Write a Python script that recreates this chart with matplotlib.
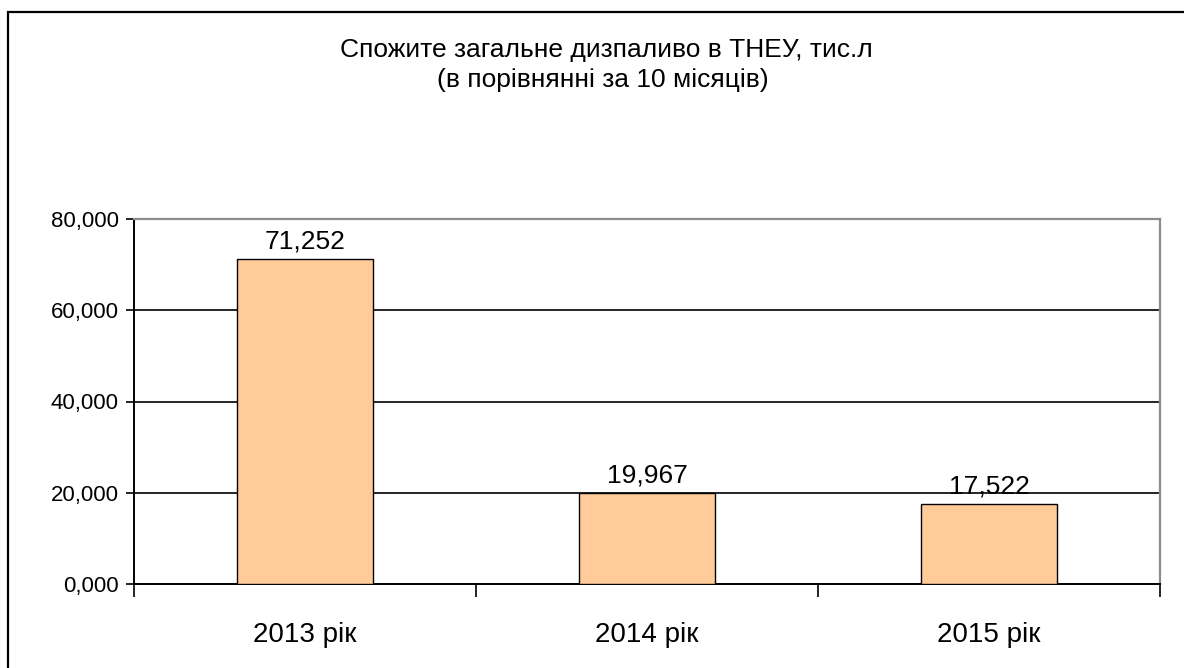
import matplotlib
matplotlib.use("Agg")
import matplotlib.pyplot as plt
from matplotlib.patches import Rectangle
from matplotlib.ticker import FuncFormatter, FixedLocator

plt.rcParams['font.family'] = ['Liberation Sans', 'DejaVu Sans']

categories = ["2013 рік", "2014 рік", "2015 рік"]
values = [71.252, 19.967, 17.522]
y_ticks = [0, 20, 40, 60, 80]
title_lines = ["Спожите загальне дизпаливо в ТНЕУ, тис.л", "(в порівнянні за 10 місяців)"]


def fmt(v, pos=None):
    return f"{v:.3f}".replace(".", ",")


fig = plt.figure(figsize=(11.84, 6.68), dpi=100)
fig.patch.set_facecolor("white")

# outer chart frame
fig.add_artist(Rectangle((8 / 1184, -0.05), 1.2, 1 - 12 / 668 + 0.05,
                         transform=fig.transFigure, fill=False,
                         edgecolor="black", linewidth=1.6))

ax = fig.add_axes([134 / 1184, 1 - 584 / 668, (1160 - 134) / 1184, (584 - 219) / 668])

x = list(range(len(categories)))
ax.bar(x, values, width=0.40, color="#FFCC99", edgecolor="black", linewidth=1.0, zorder=3)

ax.set_xlim(-0.5, len(categories) - 0.5)
ax.set_ylim(0, 80)
ax.yaxis.set_major_locator(FixedLocator(y_ticks))
ax.yaxis.set_major_formatter(FuncFormatter(fmt))
ax.tick_params(axis="y", direction="out", length=6, width=1.2, labelsize=16, pad=5)

ax.set_xticks(x)
ax.set_xticklabels(categories, fontsize=20)
ax.tick_params(axis="x", length=0, pad=27)
# category boundary ticks
ax.set_xticks([i - 0.5 for i in range(len(categories) + 1)], minor=True)
ax.tick_params(axis="x", which="minor", direction="out", length=9, width=1.2)

for yv in y_ticks[1:-1]:
    ax.axhline(yv, color="black", linewidth=1.2, zorder=1)

for side in ("top", "right"):
    ax.spines[side].set_color("#8c8c8c")
    ax.spines[side].set_linewidth(1.6)
for side in ("left", "bottom"):
    ax.spines[side].set_color("black")
    ax.spines[side].set_linewidth(1.4)

for xi, v in zip(x, values):
    ax.text(xi, v + 1.2, fmt(v), ha="center", va="bottom", fontsize=19)

fig.text(606 / 1184, 1 - 50 / 668, title_lines[0], ha="center", va="center", fontsize=19)
fig.text(603 / 1184, 1 - 80 / 668, title_lines[1], ha="center", va="center", fontsize=19)

fig.savefig("out.png", dpi=100)
